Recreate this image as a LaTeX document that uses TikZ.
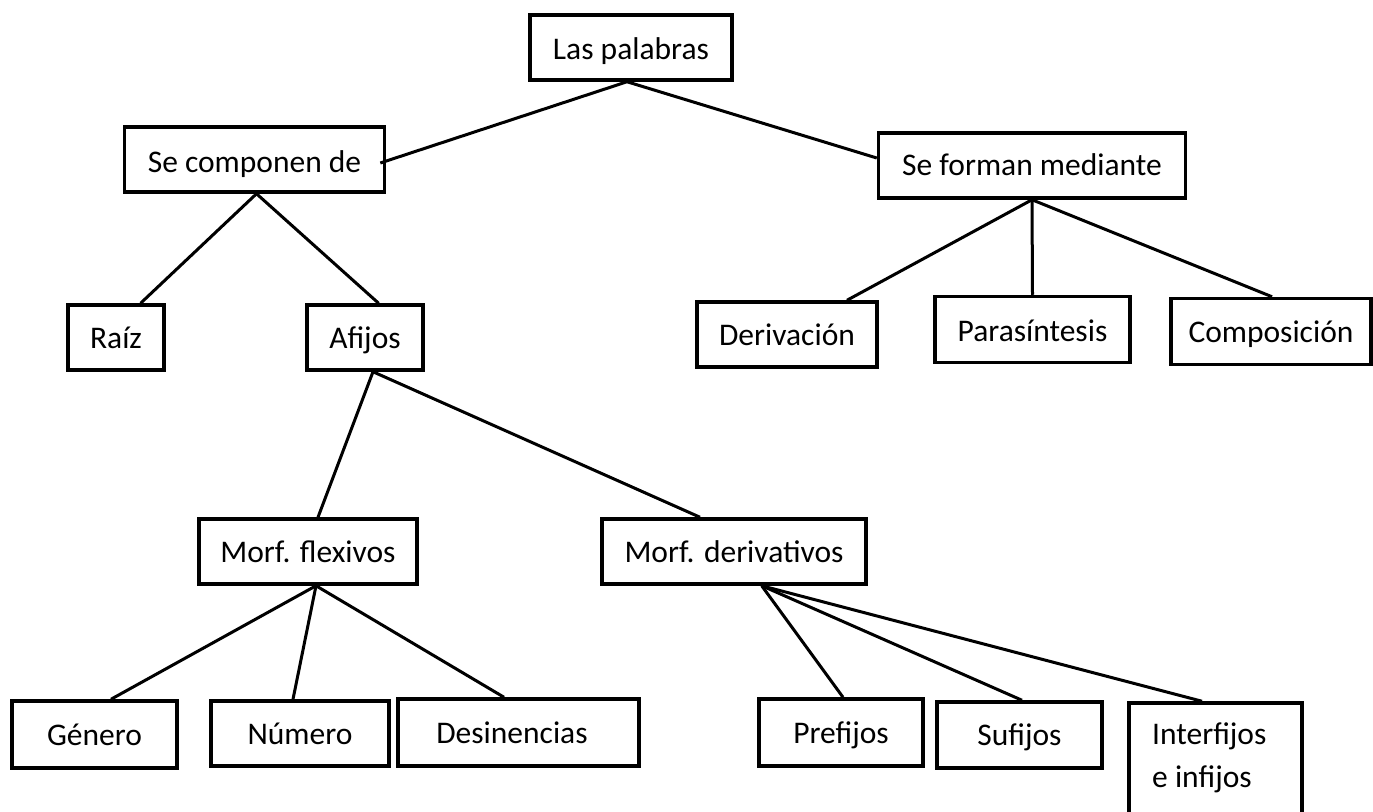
\documentclass[tikz,border=0pt]{standalone}
\usepackage{fontspec}
\setmainfont{Carlito}
\begin{document}
\begin{tikzpicture}[x=1pt,y=-1pt,
  txt/.style={font=\fontsize{31.5}{43}\selectfont},
  box/.style={draw, line width=3.5pt, inner sep=0pt, minimum width=#1, minimum height=65,
    txt, text height=21pt, text depth=0pt},
  lbl/.style={inner sep=0pt, txt},
  link/.style={line width=3pt}]
\useasboundingbox (0,0) rectangle (1373,811);
% boxes with text
\node[box=202, text height=24pt] (lp) at (631,47.5) {Las palabras};
\node[box=260, text height=25pt] (sc) at (254.5,159.5) {Se componen de};
\node[box=307, text height=19pt] (sf) at (1032,165.5) {Se forman mediante};
\node[box=96] (raiz) at (116,337.5) {Raíz};
\node[box=116] (afi) at (365,337.5) {Afijos};
\node[box=180] (der) at (787,334.5) {Derivación};
\node[box=195, minimum height=66, text height=23pt] (par) at (1032.5,329.5) {Parasíntesis};
\node[box=200, minimum height=66] (comp) at (1271,331.5) {Composición};
\node[box=218] (mf) at (308,551.5) {Morf. flexivos};
\node[box=264] (md) at (734,551.5) {Morf. derivativos};
\node[box=165, minimum height=67] (gen) at (94.5,734.5) {Género};
\node[box=178] (num) at (300,733.5) {Número};
\node[box=241, minimum height=67] (des) at (518.5,732.5) {};
\node[lbl, anchor=base] (dest) at (512,743) {Desinencias};
\node[box=164, minimum height=67] (pre) at (841,732.5) {Prefijos};
\node[box=165, minimum height=66] (suf) at (1019.5,735) {Sufijos};
\node[box=173, minimum height=127] (int) at (1215.5,766.5) {};
\node[lbl, anchor=north west, align=left] (intt) at (1152,723) {Interfijos\\e infijos};
% connectors
\draw[link] ([xshift=-4pt]lp.south) -- ([xshift=-6pt,yshift=-3.5pt]sc.east);
\draw[link] ([xshift=-4pt]lp.south) -- ([yshift=7.5pt]sf.west);
\draw[link] ([xshift=2pt]sc.south) -- ([xshift=24.6pt]raiz.north);
\draw[link] ([xshift=2pt]sc.south) -- ([xshift=13.6pt]afi.north);
\draw[link] (sf.south) -- ([xshift=60pt]der.north);
\draw[link] (sf.south) -- (par.north);
\draw[link] (sf.south) -- ([xshift=1pt]comp.north);
\draw[link] ([xshift=8pt]afi.south) -- ([xshift=10pt]mf.north);
\draw[link] ([xshift=8pt]afi.south) -- ([xshift=-34pt]md.north);
\draw[link] ([xshift=8pt]mf.south) -- ([xshift=16.5pt]gen.north);
\draw[link] ([xshift=8pt]mf.south) -- ([xshift=-7pt]num.north);
\draw[link] ([xshift=8pt]mf.south) -- ([xshift=-14.5pt]des.north);
\draw[link] ([xshift=27.7pt]md.south) -- ([xshift=2pt]pre.north);
\draw[link] ([xshift=27.7pt]md.south) -- ([xshift=2.5pt]suf.north);
\draw[link] ([xshift=27.7pt]md.south) -- ([xshift=-13.5pt]int.north);
\end{tikzpicture}
\end{document}
